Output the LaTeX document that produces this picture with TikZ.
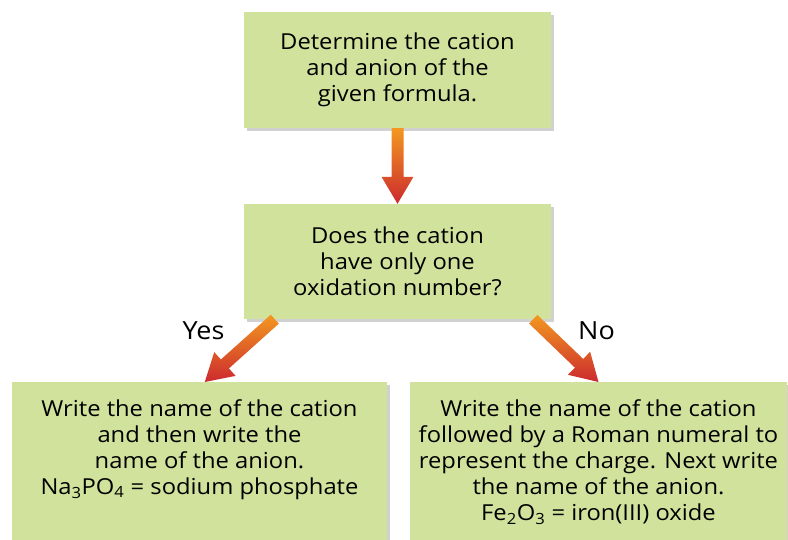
\documentclass[tikz,border=0pt]{standalone}
\usepackage{fontspec}
\setmainfont[FakeStretch=1.08]{Open Sans}
\usepackage{tikz}
\usetikzlibrary{calc}
\usetikzlibrary{shadows}
\definecolor{boxgreen}{RGB}{209, 226, 156}
\definecolor{arrowtop}{RGB}{242, 152, 32}
\definecolor{arrowbot}{RGB}{204, 42, 46}
\tikzset{
  greenbox/.style={fill=boxgreen, align=center, inner sep=0pt,
    font=\fontsize{22}{26}\selectfont,
    drop shadow={shadow xshift=3pt, shadow yshift=-3pt, fill=black, opacity=.18}},
  arrowfill/.style={top color=arrowtop, bottom color=arrowbot},
  answer/.style={font=\fontsize{25}{30}\selectfont}
}
\newcommand{\gradarrow}[2]{%
  \path (#2) coordinate (tip) ($(#2)!27pt!(#1)$) coordinate (hbase);
  \shade[arrowfill] ($(#1)!6pt!90:(tip)$) -- ($(hbase)!6pt!90:(tip)$)
    -- ($(hbase)!16pt!90:(tip)$) -- (tip) -- ($(hbase)!16pt!-90:(tip)$)
    -- ($(hbase)!6pt!-90:(tip)$) -- ($(#1)!6pt!-90:(tip)$) -- cycle;
}
\begin{document}
\begin{tikzpicture}[x=1pt, y=-1pt]
    \useasboundingbox (0, 0) rectangle (788, 540);
    \clip (0, 0) rectangle (788, 540);

    \node [greenbox, minimum width=307, minimum height=116] (det) at (397.5, 70)
      {Determine the cation\\and anion of the\\given formula.};
    \node [greenbox, minimum width=307, minimum height=115] (cat) at (397.5, 261.5)
      {Does the cation\\have only one\\oxidation number?};

    \node [greenbox, anchor=north, minimum width=375, inner ysep=17pt, text depth=140pt] (yes) at (199.5, 382)
      {Write the name of the cation\\and then write the\\name of the anion.\\
       Na\textsubscript{3}PO\textsubscript{4} = sodium phosphate};
    \node [greenbox, anchor=north, minimum width=377, inner ysep=17pt, text depth=140pt] (no) at (598.5, 382)
      {Write the name of the cation\\followed by a Roman numeral to\\represent the charge. Next write\\
       the name of the anion.\\Fe\textsubscript{2}O\textsubscript{3} = iron(III) oxide};

    \coordinate (yesfrom) at ([xshift=31pt]cat.south west);
    \coordinate (yesto) at ([xshift=193pt]yes.north west);
    \coordinate (nofrom) at ([xshift=-18pt]cat.south east);
    \coordinate (noto) at (no.north);

    \gradarrow{det.south}{cat.north}
    \gradarrow{yesfrom}{yesto}
    \gradarrow{nofrom}{noto}

    \node [answer, anchor=base] (yeslabel) at (203.5, 340) {Yes};
    \node [answer, anchor=base] (nolabel) at (596.5, 340) {No};
  \end{tikzpicture}
\end{document}
